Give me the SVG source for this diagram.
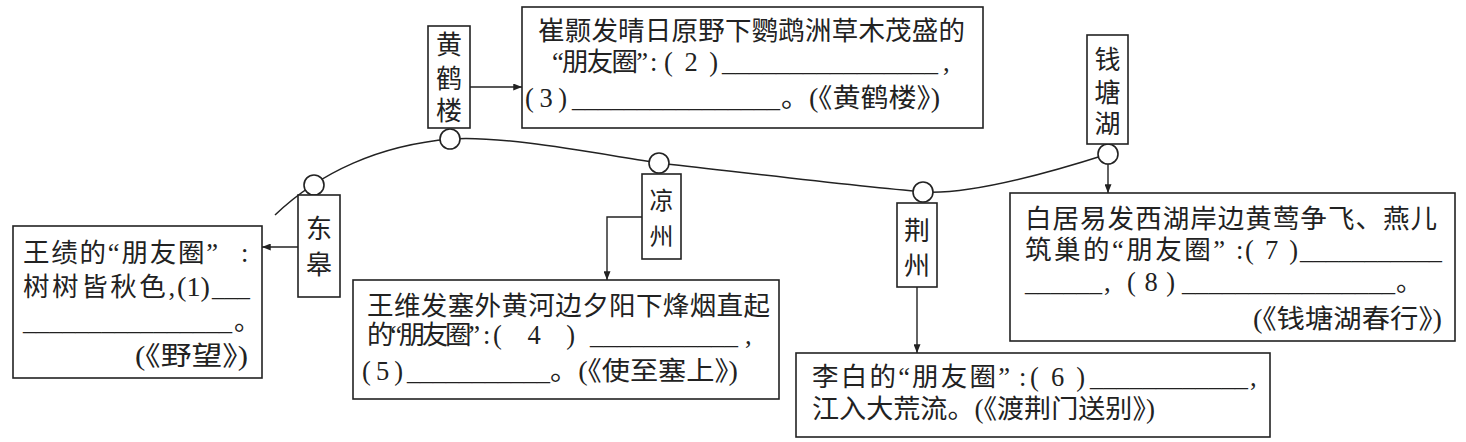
<svg xmlns="http://www.w3.org/2000/svg" width="1466" height="442" viewBox="0 0 1466 442">
<defs>
<marker id="ah" viewBox="0 0 10 8" refX="10" refY="4" markerWidth="10" markerHeight="7" orient="auto" markerUnits="userSpaceOnUse"><path d="M0,0 L10,4 L0,8 z" fill="#222"/></marker>
<style>
.box{fill:#fff;stroke:#222;stroke-width:1.6}
.pin{fill:#fff;stroke:#222;stroke-width:1.6}
.ln{fill:none;stroke:#222;stroke-width:1.5}
.ar{fill:none;stroke:#222;stroke-width:1.4;marker-end:url(#ah)}
.t{font-family:"Liberation Serif","Noto Sans CJK SC",serif;font-size:26.5px;fill:#222}
.v{font-family:"Liberation Serif","Noto Sans CJK SC",serif;font-size:26px;fill:#222;text-anchor:middle}
</style>
</defs>
<rect width="1466" height="442" fill="#fff"/>
<g id="connectors">
<path class="ln" d="M275,215 C320,172 380,145 451,139 C501,135 599,154 659,163 C739,172 853,186 923,192 C973,195 1058,170 1108,154"/>
<path class="ar" d="M298,247 L262,247"/>
<path class="ar" d="M470,87 L522,87"/>
<path class="ar" d="M642,217 L607,217 L607,280"/>
<path class="ar" d="M917,287 L917,353"/>
<path class="ar" d="M1108,164 L1108,193"/>
</g>
<g id="node-donggao">
<circle class="pin" cx="314" cy="185" r="10"/>
<rect class="box" x="298" y="195" width="42" height="102"/>
<text class="v" x="319" y="238">东</text>
<text class="v" x="319" y="274">皋</text>
</g>
<g id="node-huanghelou">
<circle class="pin" cx="450" cy="139" r="10"/>
<rect class="box" x="428" y="26" width="42" height="102"/>
<text class="v" x="449" y="54">黄</text>
<text class="v" x="449" y="88">鹤</text>
<text class="v" x="449" y="120">楼</text>
</g>
<g id="node-liangzhou">
<circle class="pin" cx="659" cy="163" r="10"/>
<rect class="box" x="642" y="174" width="39" height="85"/>
<text class="v" x="661.5" y="209" style="font-size:24px">凉</text>
<text class="v" x="661.5" y="245" style="font-size:24px">州</text>
</g>
<g id="node-jingzhou">
<circle class="pin" cx="923" cy="192" r="10"/>
<rect class="box" x="897" y="203" width="40" height="84"/>
<text class="v" x="917" y="240">荆</text>
<text class="v" x="917" y="275">州</text>
</g>
<g id="node-qiantanghu">
<circle class="pin" cx="1108" cy="154" r="10"/>
<rect class="box" x="1087" y="35" width="41" height="109"/>
<text class="v" x="1107.5" y="69">钱</text>
<text class="v" x="1107.5" y="102">塘</text>
<text class="v" x="1107.5" y="133">湖</text>
</g>
<g id="box-wangji">
<rect class="box" x="13" y="226" width="249" height="152"/>
<text class="t" y="262"><tspan x="23" textLength="195">王绩的“朋友圈”</tspan><tspan x="241">:</tspan></text>
<text class="t" y="296"><tspan x="23" textLength="152">树树皆秋色,</tspan><tspan x="177" textLength="33" lengthAdjust="spacingAndGlyphs">(1)</tspan><tspan x="212" textLength="38" lengthAdjust="spacingAndGlyphs">___</tspan></text>
<text class="t" y="330"><tspan x="23" textLength="209" lengthAdjust="spacingAndGlyphs">________________</tspan><tspan x="234">。</tspan></text>
<text class="t" y="365" x="135" textLength="113" lengthAdjust="spacingAndGlyphs">(《野望》)</text>
</g>
<g id="box-cuihao">
<rect class="box" x="522" y="7" width="461" height="121"/>
<text class="t" x="538" y="40" textLength="427">崔颢发晴日原野下鹦鹉洲草木茂盛的</text>
<text class="t" y="71"><tspan x="552" textLength="96">“朋友圈”</tspan><tspan x="650">:</tspan><tspan x="664" textLength="54">(2)</tspan><tspan x="722" textLength="216" lengthAdjust="spacingAndGlyphs">________________</tspan><tspan x="943">,</tspan></text>
<text class="t" y="107"><tspan x="525" textLength="42">(3)</tspan><tspan x="572" textLength="208" lengthAdjust="spacingAndGlyphs">________________</tspan><tspan x="781" textLength="159" lengthAdjust="spacingAndGlyphs">。(《黄鹤楼》)</tspan></text>
</g>
<g id="box-wangwei">
<rect class="box" x="353" y="280" width="426" height="119"/>
<text class="t" x="367" y="315" textLength="403">王维发塞外黄河边夕阳下烽烟直起</text>
<text class="t" y="344"><tspan x="367" textLength="113">的“朋友圈”</tspan><tspan x="483">:</tspan><tspan x="493" textLength="82">(4)</tspan><tspan x="590" textLength="148" lengthAdjust="spacingAndGlyphs">___________</tspan><tspan x="745">,</tspan></text>
<text class="t" y="380"><tspan x="362" textLength="41">(5)</tspan><tspan x="407" textLength="143" lengthAdjust="spacingAndGlyphs">___________</tspan><tspan x="550" textLength="188" lengthAdjust="spacingAndGlyphs">。(《使至塞上》)</tspan></text>
</g>
<g id="box-libai">
<rect class="box" x="796" y="353" width="474" height="84"/>
<text class="t" y="386"><tspan x="812" textLength="198">李白的“朋友圈”</tspan><tspan x="1019">:</tspan><tspan x="1030" textLength="55">(6)</tspan><tspan x="1090" textLength="158" lengthAdjust="spacingAndGlyphs">____________</tspan><tspan x="1250">,</tspan></text>
<text class="t" x="812" y="418" textLength="343" lengthAdjust="spacingAndGlyphs">江入大荒流。(《渡荆门送别》)</text>
</g>
<g id="box-baijuyi">
<rect class="box" x="1010" y="193" width="445" height="148"/>
<text class="t" x="1025" y="228" textLength="412">白居易发西湖岸边黄莺争飞、燕儿</text>
<text class="t" y="259"><tspan x="1025" textLength="200">筑巢的“朋友圈”</tspan><tspan x="1236">:</tspan><tspan x="1245" textLength="53">(7)</tspan><tspan x="1300" textLength="142" lengthAdjust="spacingAndGlyphs">___________</tspan></text>
<text class="t" y="291"><tspan x="1025" textLength="77" lengthAdjust="spacingAndGlyphs">______</tspan><tspan x="1104">,</tspan><tspan x="1127" textLength="48">(8)</tspan><tspan x="1182" textLength="213" lengthAdjust="spacingAndGlyphs">________________</tspan><tspan x="1396">。</tspan></text>
<text class="t" x="1253" y="328" textLength="189" lengthAdjust="spacingAndGlyphs">(《钱塘湖春行》)</text>
</g>
</svg>
